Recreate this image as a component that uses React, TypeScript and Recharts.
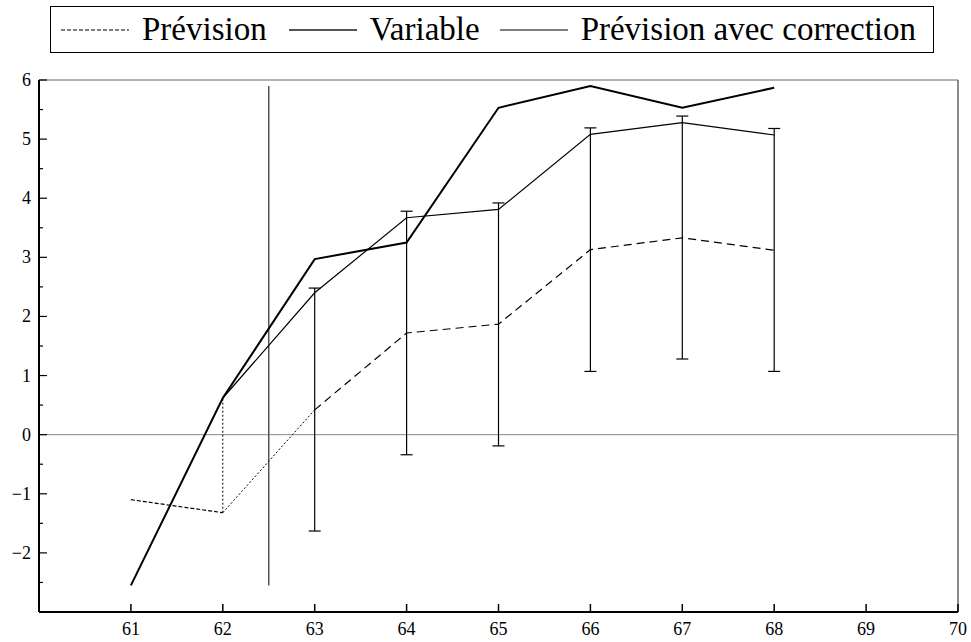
import React from "react"
import { LineChart, Line, XAxis, YAxis, ReferenceLine, ErrorBar } from "recharts"

const SERIF = "'Liberation Serif', 'Times New Roman', serif"

// values
const years = [61, 62, 63, 64, 65, 66, 67, 68]
const variable = [-2.55, 0.62, 2.97, 3.25, 5.53, 5.9, 5.53, 5.87]
const prevision = [-1.1, -1.32, 0.42, 1.72, 1.87, 3.13, 3.33, 3.12]
const correctionYears = [62, 63, 64, 65, 66, 67, 68]
const correction = [0.62, 2.4, 3.67, 3.81, 5.08, 5.28, 5.07]
const bandYears = [63, 64, 65, 66, 67, 68]
const bandLow = [-1.63, -0.34, -0.19, 1.07, 1.28, 1.07]
const bandHigh = [2.48, 3.78, 3.92, 5.19, 5.39, 5.18]
const splitYear = [62.5, 62.5]
const splitRange = [-2.55, 5.9]

const xTicks = [61, 62, 63, 64, 65, 66, 67, 68, 69, 70]
const yTicks = [-2.5, -2, -1.5, -1, -0.5, 0, 0.5, 1, 1.5, 2, 2.5, 3, 3.5, 4, 4.5, 5, 5.5, 6]

const pts = (xs: number[], ys: number[]) => xs.map((x, i) => ({ x, y: ys[i] }))

const variableData = pts(years, variable)
const prevData = pts(years, prevision)
const prevFirst = prevData.slice(0, 2)
const prevSecond = prevData.slice(1, 3)
const prevRest = prevData.slice(2)
const prevJoin = [prevData[1], { x: years[1], y: variable[1] }]
const correctionData = pts(correctionYears, correction)
const bandData = bandYears.map((x, i) => {
  const y = correction[correctionYears.indexOf(x)]
  return { x, y, err: [y - bandLow[i], bandHigh[i] - y] }
})
const splitData = pts(splitYear, splitRange)

const fmt = (v: number) => (v < 0 ? "\u2212" + Math.abs(v) : String(v))

const XTick = (props: any) => {
  const { x, y, payload } = props
  return (
    <g>
      <line x1={x} x2={x} y1={y} y2={y - 8} stroke="#000" strokeWidth={1.5} />
      <text x={x} y={y + 23} textAnchor="middle" fontFamily={SERIF} fontSize={18} fill="#000">
        {payload.value}
      </text>
    </g>
  )
}

const YTick = (props: any) => {
  const { x, y, payload } = props
  const v = payload.value
  const major = Number.isInteger(v)
  return (
    <g>
      <line x1={x} x2={x + (major ? 8 : 4)} y1={y} y2={y} stroke="#000" strokeWidth={1.2} />
      {major && (
        <text x={x - 8} y={y + 6} textAnchor="end" fontFamily={SERIF} fontSize={18} fill="#000">
          {fmt(v)}
        </text>
      )}
    </g>
  )
}

const LegendItem = ({ dash, width, label, gap }: { dash?: string; width: number; label: string; gap: number }) => (
  <div style={{ display: "flex", alignItems: "center", marginRight: gap }}>
    <svg width={68} height={4} style={{ marginRight: 13 }}>
      <line x1={0} x2={68} y1={2} y2={2} stroke="#555" strokeWidth={width} strokeDasharray={dash} />
    </svg>
    <span>{label}</span>
  </div>
)

export default function App() {
  return (
    <div style={{ position: "absolute", left: 0, top: 0, width: 971, height: 642, background: "#fff" }}>
      <div
        style={{
          position: "absolute",
          left: 50,
          top: 6,
          width: 872,
          height: 45,
          border: "1px solid #000",
          display: "flex",
          alignItems: "center",
          paddingLeft: 10,
          boxSizing: "content-box",
          fontFamily: SERIF,
          fontSize: 33,
          lineHeight: "45px",
          color: "#000",
        }}
      >
        <LegendItem dash="4 2" width={1.5} label="Prévision" gap={22} />
        <LegendItem width={2} label="Variable" gap={20} />
        <LegendItem width={1.5} label="Prévision avec correction" gap={0} />
      </div>
      <LineChart width={971} height={642} margin={{ top: 80, right: 13, bottom: 0, left: 0 }}>
        <XAxis
          type="number"
          dataKey="x"
          domain={[60, 70]}
          allowDataOverflow
          ticks={xTicks}
          interval={0}
          height={30}
          tickSize={0}
          tickMargin={0}
          tickLine={false}
          axisLine={{ stroke: "#000", strokeWidth: 2 }}
          tick={<XTick />}
        />
        <YAxis
          type="number"
          dataKey="y"
          domain={[-3, 6]}
          allowDataOverflow
          ticks={yTicks}
          interval={0}
          width={39}
          tickSize={0}
          tickMargin={0}
          tickLine={false}
          axisLine={{ stroke: "#000", strokeWidth: 2 }}
          tick={<YTick />}
        />
        <ReferenceLine y={6} stroke="#666" strokeWidth={1} />
        <ReferenceLine x={70} stroke="#666" strokeWidth={1.5} />
        <ReferenceLine y={0} stroke="#888" strokeWidth={1} />
        <Line data={splitData} dataKey="y" stroke="#555" strokeWidth={1.5} dot={false} isAnimationActive={false} />
        <Line data={prevFirst} dataKey="y" stroke="#000" strokeWidth={1.2} strokeDasharray="4 2" dot={false} isAnimationActive={false} />
        <Line data={prevSecond} dataKey="y" stroke="#000" strokeWidth={1} strokeDasharray="2 2" dot={false} isAnimationActive={false} />
        <Line data={prevJoin} dataKey="y" stroke="#000" strokeWidth={1} strokeDasharray="2 2" dot={false} isAnimationActive={false} />
        <Line data={prevRest} dataKey="y" stroke="#000" strokeWidth={1.2} strokeDasharray="8 5" dot={false} isAnimationActive={false} />
        <Line data={correctionData} dataKey="y" stroke="#000" strokeWidth={1.2} dot={false} isAnimationActive={false} />
        <Line data={bandData} dataKey="y" stroke="none" dot={false} isAnimationActive={false}>
          <ErrorBar dataKey="err" width={6} stroke="#000" strokeWidth={1.2} direction="y" isAnimationActive={false} />
        </Line>
        <Line data={variableData} dataKey="y" stroke="#000" strokeWidth={2} dot={false} isAnimationActive={false} />
      </LineChart>
    </div>
  )
}
